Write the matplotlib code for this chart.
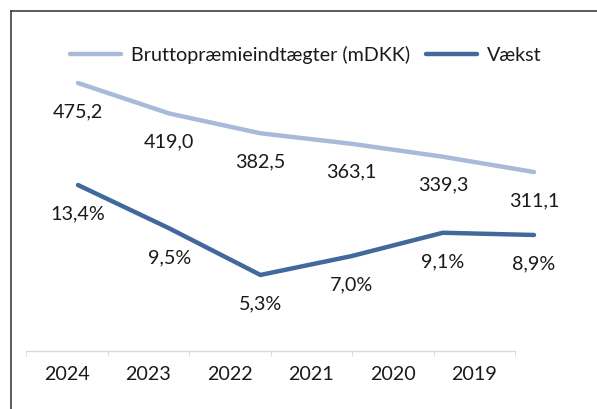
import matplotlib.pyplot as plt
from matplotlib.lines import Line2D

years = ['2024', '2023', '2022', '2021', '2020', '2019']
brutto = [475.2, 419.0, 382.5, 363.1, 339.3, 311.1]
vaekst = [13.4, 9.5, 5.3, 7.0, 9.1, 8.9]

lightColor = '#A9B9D9'
darkColor = '#41699C'
axisColor = '#D9D9D9'
textColor = '#1A1A1A'
fontName = 'Lato'
fs = 14.2

plt.rcParams['font.family'] = fontName

W, H = 597, 409
fig = plt.figure(figsize=(W / 100, H / 100), dpi=100)

# category axis (labels + tick marks between categories)
bottom = (H - 351) / H
height = (351 - 60) / H
ax = fig.add_axes([26 / W, bottom, 489 / W, height])
ax.set_xlim(-0.5, len(years) - 0.5)
ax.set_ylim(0, 1)
for s in ['top', 'right', 'left']:
	ax.spines[s].set_visible(False)
ax.spines['bottom'].set_color(axisColor)
ax.spines['bottom'].set_linewidth(1)
ax.set_yticks([])
ax.set_xticks(range(len(years)))
ax.set_xticklabels(years, fontsize=fs, color=textColor)
ax.set_xticks([i - 0.5 for i in range(len(years) + 1)], minor=True)
ax.tick_params(axis='x', which='major', length=0, pad=10.5)
ax.tick_params(axis='x', which='minor', length=3.5, color=axisColor, direction='out')
ax.patch.set_alpha(0)

# line axes (Excel secondary-style offset)
linePos = [78 / W, bottom, (534 - 78) / W, height]
axL = fig.add_axes(linePos)
axD = fig.add_axes(linePos)
for a in (axL, axD):
	a.set_axis_off()
	a.set_xlim(0, len(years) - 1)
axL.set_ylim(-18.9, 517.6)
axD.set_ylim(-1.55, 24.66)

xs = list(range(len(years)))
axL.plot(xs, brutto, color=lightColor, lw=3.2, solid_capstyle='round', solid_joinstyle='round', clip_on=False)
axD.plot(xs, vaekst, color=darkColor, lw=3.2, solid_capstyle='round', solid_joinstyle='round', clip_on=False)

for x, v in zip(xs, brutto):
	axL.annotate(f'{v:.1f}'.replace('.', ','), (x, v), xytext=(0, -20.5), textcoords='offset points',
		ha='center', va='center', fontsize=fs, color=textColor, annotation_clip=False)
for x, v in zip(xs, vaekst):
	axD.annotate(f'{v:.1f}%'.replace('.', ','), (x, v), xytext=(0, -21), textcoords='offset points',
		ha='center', va='center', fontsize=fs, color=textColor, annotation_clip=False)

handles = [Line2D([], [], color=lightColor, lw=3.2, solid_capstyle='round'),
	Line2D([], [], color=darkColor, lw=3.2, solid_capstyle='round')]
fig.legend(handles, ['Bruttopræmieindtægter (mDKK)', 'Vækst'], loc='center', bbox_to_anchor=(306 / W, (H - 55) / H),
	ncol=2, frameon=False, fontsize=fs, handlelength=2.6, handletextpad=0.5, columnspacing=0.8,
	labelcolor=textColor)

# chart border (only top and left visible in the crop)
fig.add_artist(Line2D([10.5 / W, 10.5 / W], [0, (H - 10.5) / H], color='#404040', lw=1.2))
fig.add_artist(Line2D([10.5 / W, 1], [(H - 10.5) / H, (H - 10.5) / H], color='#404040', lw=1.2))

fig.savefig('out.png', dpi=100)
